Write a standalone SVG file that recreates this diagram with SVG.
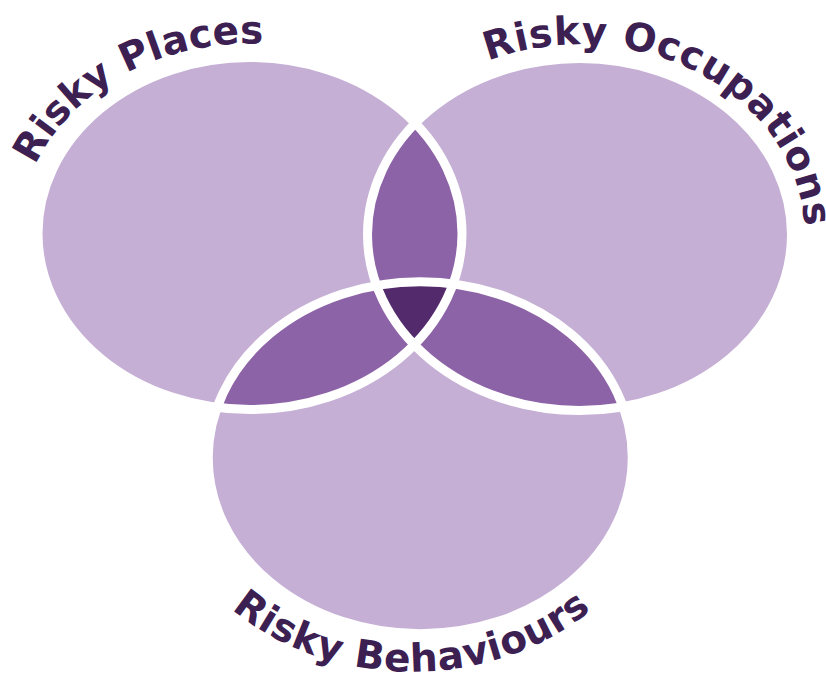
<svg xmlns="http://www.w3.org/2000/svg" xmlns:xlink="http://www.w3.org/1999/xlink" width="826" height="673" viewBox="0 0 826 673">
  <style>
    .set { fill: #c5afd5; }
    .pair { fill: #8d63a7; }
    .triple { fill: #532b6c; }
    .outline { fill: none; stroke: #ffffff; stroke-width: 9; }
    .label { font-family: "DejaVu Sans", "Liberation Sans", sans-serif; font-weight: 700; font-size: 39px; fill: #3d2052; }
  </style>
  <defs>
    <ellipse id="eA" cx="250" cy="233.5" rx="212" ry="176"/>
    <ellipse id="eB" cx="579.5" cy="234.5" rx="212" ry="176"/>
    <ellipse id="eC" cx="420.25" cy="457.75" rx="212" ry="176"/>
    <clipPath id="clipA"><use xlink:href="#eA"/></clipPath>
    <clipPath id="clipB"><use xlink:href="#eB"/></clipPath>
    <clipPath id="clipC"><use xlink:href="#eC"/></clipPath>
    <path id="arcPlaces" d="M 35.4 165.1 A 230 190 0 0 1 426.2 111.4"/>
    <path id="arcOccupations" d="M 488.0 60.9 A 225 190 0 0 1 774.4 329.5"/>
    <path id="arcBehaviours" d="M 231.7 609.1 A 255 214 0 0 0 651.6 530.9"/>
  </defs>

  <g id="node-places">
    <use xlink:href="#eA" class="set"/>
  </g>
  <g id="node-occupations">
    <use xlink:href="#eB" class="set"/>
  </g>
  <g id="node-behaviours">
    <use xlink:href="#eC" class="set"/>
  </g>

  <g id="overlaps">
    <g clip-path="url(#clipA)"><use xlink:href="#eB" class="pair"/></g>
    <g clip-path="url(#clipA)"><use xlink:href="#eC" class="pair"/></g>
    <g clip-path="url(#clipB)"><use xlink:href="#eC" class="pair"/></g>
    <g clip-path="url(#clipA)"><g clip-path="url(#clipB)"><use xlink:href="#eC" class="triple"/></g></g>
  </g>

  <g id="outlines">
    <use xlink:href="#eA" class="outline"/>
    <use xlink:href="#eB" class="outline"/>
    <use xlink:href="#eC" class="outline"/>
  </g>

  <g id="labels">
    <text class="label"><textPath xlink:href="#arcPlaces" textLength="273" lengthAdjust="spacing">Risky Places</textPath></text>
    <text class="label"><textPath xlink:href="#arcOccupations" textLength="412" lengthAdjust="spacing">Risky Occupations</textPath></text>
    <text class="label"><textPath xlink:href="#arcBehaviours" textLength="388" lengthAdjust="spacing">Risky Behaviours</textPath></text>
  </g>
</svg>
